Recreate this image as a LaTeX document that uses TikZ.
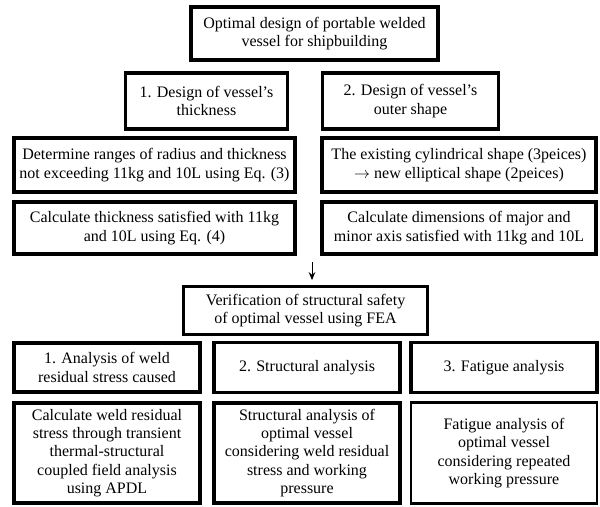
\documentclass[tikz,border=0pt]{standalone}
\usepackage{fontspec}
\setmainfont{Liberation Serif}
\usepackage{tikz}
\usetikzlibrary{calc, arrows.meta}

\tikzset{
	blk/.style = {draw, align = center, inner sep = 0pt, line width = #1,
		font = \fontsize{12}{13.8}\selectfont},
	blk/.default = 2.6pt
}

\begin{document}
\begin{tikzpicture}[x = 0.75pt, y = -0.75pt]
					\useasboundingbox (0,0) rectangle (600,507);

					\begin{scope}
						\node [blk = 3pt, minimum width = 247*0.75pt, minimum height = 53*0.75pt] (goal) at (314.5,33.5)
							{Optimal design of portable welded\\vessel for shipbuilding};
						\node [blk, minimum width = 162*0.75pt, minimum height = 56*0.75pt] (thick) at (206.5,101)
							{1. Design of vessel’s\\thickness};
						\node [blk, minimum width = 176*0.75pt, minimum height = 56*0.75pt] (shape) at (410.5,101)
							{2. Design of vessel’s\\outer shape};
					\end{scope}

					\begin{scope}[every node/.style = {blk = 3pt, minimum width = 281*0.75pt}]
						\node [minimum height = 54*0.75pt] (range) at (154.5,165)
							{Determine ranges of radius and thickness\\not exceeding 11kg and 10L using Eq. (3)};
						\node [minimum width = 274*0.75pt, minimum height = 54*0.75pt] (ellip) at (459,165)
							{The existing cylindrical shape (3peices)\\$\rightarrow$ new elliptical shape (2peices)};
						\node [minimum height = 52*0.75pt] (calct) at (154.5,228)
							{Calculate thickness satisfied with 11kg\\and 10L using Eq. (4)};
						\node [minimum width = 274*0.75pt, minimum height = 52*0.75pt] (calcd) at (459,228)
							{Calculate dimensions of major and\\minor axis satisfied with 11kg and 10L};
					\end{scope}

					\node [blk, minimum width = 244*0.75pt, minimum height = 48*0.75pt] (fea) at (305.5,310.5)
						{Verification of structural safety\\of optimal vessel using FEA};

					\begin{scope}[every node/.style = {blk, minimum width = 186*0.75pt}]
						\node [blk = 3pt, minimum height = 49*0.75pt] (weld) at (107,367.5)
							{1. Analysis of weld\\residual stress caused};
						\node [minimum height = 50*0.75pt] (struct) at (307,367.5)
							{2. Structural analysis};
						\node [blk = 2.3pt, minimum height = 50*0.75pt] (fatig) at (504,367.5)
							{3. Fatigue analysis};
						\node [blk = 3pt, minimum height = 100*0.75pt] (weldc) at (107,453)
							{Calculate weld residual\\stress through transient\\thermal-structural\\coupled field analysis\\using APDL};
						\node [minimum height = 100*0.75pt] (structc) at (307,453)
							{Structural analysis of\\optimal vessel\\considering weld residual\\stress and working\\pressure};
						\node [blk = 2pt, minimum height = 101*0.75pt] (fatigc) at (504,453)
							{Fatigue analysis of\\optimal vessel\\considering repeated\\working pressure};
					\end{scope}

					\begin{scope}[-{Stealth[length = 6pt, width = 5pt]}, line width = 0.75pt]
						\coordinate (start) at (312,262);
						\draw (start) -- (start |- fea.north) [shorten > = 3.5pt];
					\end{scope}
\end{tikzpicture}
\end{document}
